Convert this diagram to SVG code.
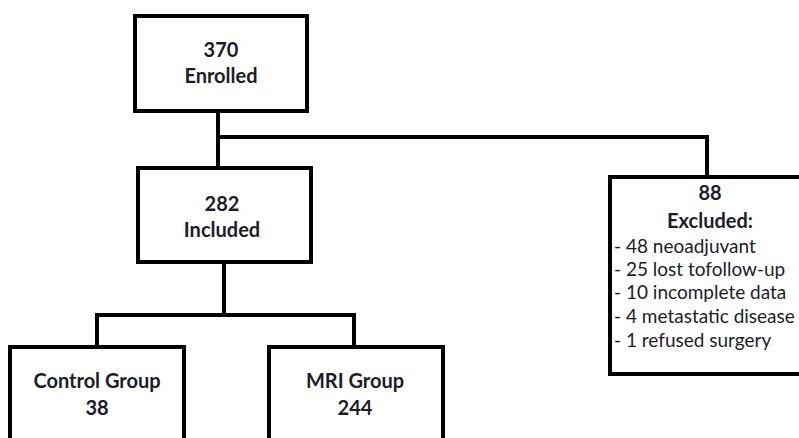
<svg xmlns="http://www.w3.org/2000/svg" width="799" height="438" viewBox="0 0 799 438">
<style>
.box{fill:#fff;stroke:#000;stroke-width:4}
.ln{fill:none;stroke:#000;stroke-width:4}
.b{font-family:Lato,"Liberation Sans",sans-serif;font-weight:bold;font-size:20px;fill:#1c1c2a;text-anchor:middle}
.r{font-family:Lato,"Liberation Sans",sans-serif;font-size:19px;fill:#1c1c2a}
</style>
<rect width="799" height="438" fill="#fff"/>
<g id="connectors">
<path class="ln" d="M218 112V168M218 137H707V177"/>
<path class="ln" d="M224 262V315M97 347V315H354V347"/>
</g>
<g id="enrolled">
<rect class="box" x="135" y="16" width="172" height="95"/>
<text class="b" x="221" y="57">370</text>
<text class="b" x="221" y="83">Enrolled</text>
</g>
<g id="included">
<rect class="box" x="138" y="168" width="173" height="94"/>
<text class="b" x="222" y="211">282</text>
<text class="b" x="222" y="237">Included</text>
</g>
<g id="excluded">
<rect class="box" x="610" y="177" width="200" height="197"/>
<text class="b" x="710" y="200">88</text>
<text class="b" x="710" y="228">Excluded:</text>
<text class="r" x="614" y="253">- 48 neoadjuvant</text>
<text class="r" x="614" y="276">- 25 lost tofollow-up</text>
<text class="r" x="614" y="299">- 10 incomplete data</text>
<text class="r" x="614" y="323">- 4 metastatic disease</text>
<text class="r" x="614" y="347">- 1 refused surgery</text>
</g>
<g id="control">
<rect class="box" x="10" y="347" width="174" height="110"/>
<text class="b" x="97" y="388">Control Group</text>
<text class="b" x="97" y="415">38</text>
</g>
<g id="mri">
<rect class="box" x="269" y="347" width="174" height="110"/>
<text class="b" x="355" y="388">MRI Group</text>
<text class="b" x="355" y="415">244</text>
</g>
</svg>
